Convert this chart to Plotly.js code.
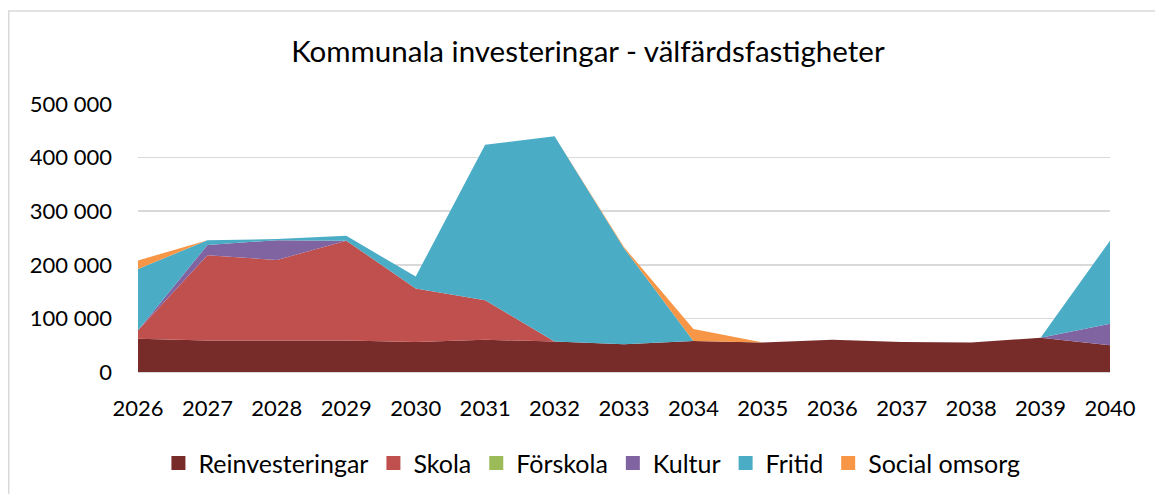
<!DOCTYPE html>
<html>
<head>
<meta charset="utf-8">
<script src="https://cdn.plot.ly/plotly-3.0.1.min.js"></script>
<style>html,body{margin:0;padding:0;background:#fff;}#chart{width:1155px;height:494px;}</style>
</head>
<body>
<div id="chart"></div>
<script>
const years = [2026,2027,2028,2029,2030,2031,2032,2033,2034,2035,2036,2037,2038,2039,2040];
const reinvesteringar = [62000,59000,59000,59000,56000,60000,57000,52000,58000,55000,60000,56000,55000,64000,50000];
const skola =           [16000,159000,150000,186000,100000,74000,0,0,0,0,0,0,0,0,0];
const forskola =        [0,0,0,0,0,0,0,0,0,0,0,0,0,0,0];
const kultur =          [0,19000,37000,0,0,0,0,0,0,0,0,0,0,0,40000];
const fritid =          [114000,9000,2000,9000,22000,290000,383000,179000,0,0,0,0,0,0,155000];
const socialOmsorg =    [16000,0,0,0,0,0,0,2000,22000,0,0,0,0,0,0];

const seriesNames = ['Reinvesteringar','Skola','Förskola','Kultur','Fritid','Social omsorg'];
const seriesValues = [reinvesteringar, skola, forskola, kultur, fritid, socialOmsorg];
const colors = ['#772C2A','#C0504D','#9BBB59','#8064A2','#4BACC6','#F79646'];

const font = 'Lato, "Open Sans", sans-serif';

const traces = seriesNames.map((n,i)=>({
  type:'scatter', mode:'lines', x:years, y:seriesValues[i], name:n,
  stackgroup:'one', fillcolor:colors[i], line:{width:0, color:colors[i]},
  showlegend:false, legendgroup:n, hoverinfo:'x+y+name'
}));
// legend entries with square swatches
seriesNames.forEach((n,i)=>{
  traces.push({type:'scatter', mode:'markers', x:[null], y:[null], name:n, legendgroup:n,
    marker:{symbol:'square', size:14, color:colors[i]}, showlegend:true});
});

const layout = {
  width:1155, height:494,
  margin:{l:138, r:45, t:104, b:122, autoexpand:false},
  paper_bgcolor:'#fff', plot_bgcolor:'#fff',
  separators:', ',
  font:{family:font, size:22, color:'#000'},
  title:{text:'Kommunala investeringar - välfärdsfastigheter', font:{family:font, size:29.5, color:'#000'}, x:0.509, xanchor:'center', y:0.895, yanchor:'middle'},
  xaxis:{type:'linear', range:[2026,2040], tickvals:years, ticktext:years.map(String), showgrid:false, zeroline:false, automargin:false,
         showline:true, linecolor:'#D9D9D9', linewidth:1, ticks:'', ticklabelstandoff:17, tickfont:{family:font,size:22,color:'#000'}},
  yaxis:{range:[0,500000], dtick:100000, tickformat:',d', showgrid:true, gridcolor:'#D9D9D9', gridwidth:1.5, zeroline:false, automargin:false,
         showline:false, ticks:'', ticklabelstandoff:25, tickfont:{family:font,size:22,color:'#000'}},
  legend:{orientation:'h', x:0.467, xanchor:'center', y:-0.255, yanchor:'top', font:{family:font,size:25,color:'#000'}, traceorder:'normal', itemwidth:30, tracegroupgap:0},
  showlegend:true,
  shapes:[{type:'rect', xref:'paper', yref:'paper', x0:-0.133, x1:1.1, y0:-0.5, y1:1.347, line:{color:'#D9D9D9', width:1.5}, fillcolor:'rgba(0,0,0,0)', layer:'below'}]
};

Plotly.newPlot('chart', traces, layout, {displayModeBar:false, staticPlot:true});
</script>
</body>
</html>
